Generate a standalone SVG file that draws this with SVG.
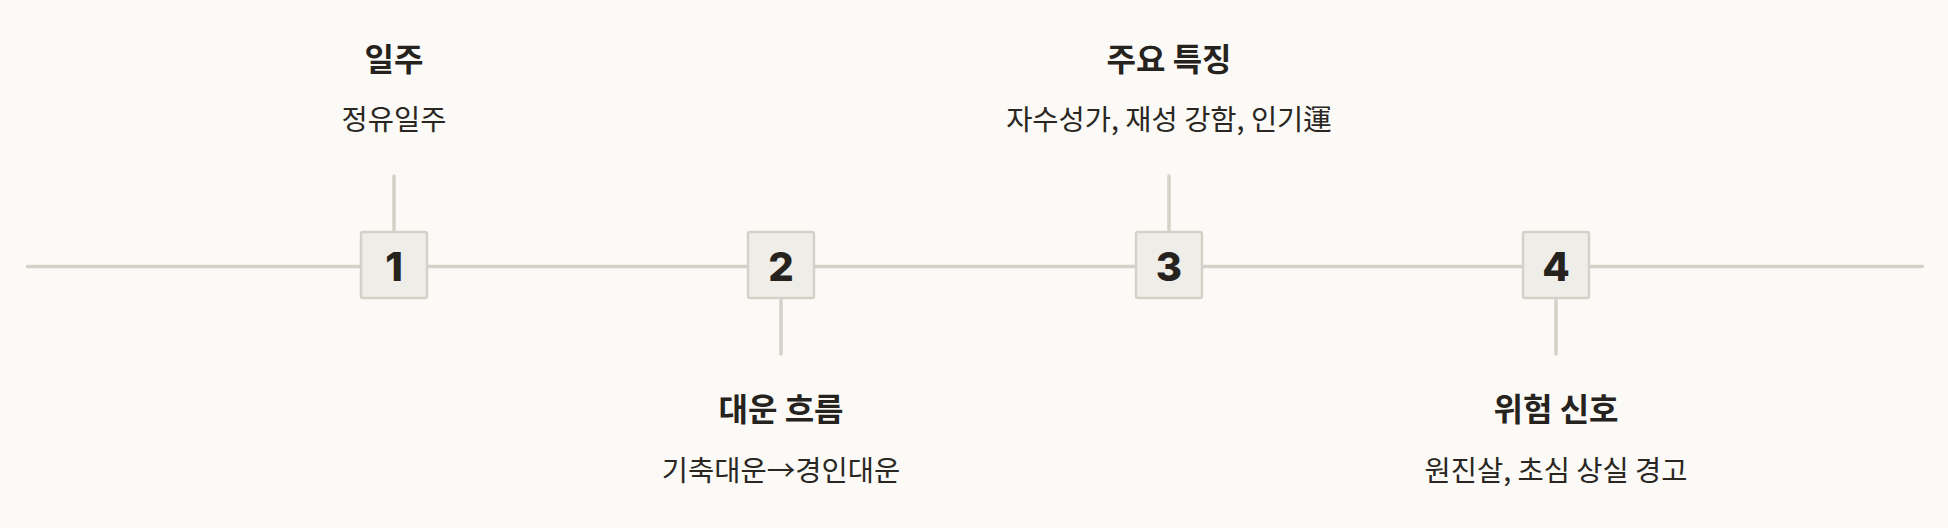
<svg xmlns="http://www.w3.org/2000/svg" width="1948" height="528" viewBox="0 0 1948 528">
<style>
.bg{fill:#fbfaf6}
.ln{stroke:#d4d1c9;stroke-width:3.5;stroke-linecap:round;fill:none}
.box{fill:#efede7;stroke:#d4d1c9;stroke-width:2.5}
.num{font-family:Inter,"Noto Sans",sans-serif;font-weight:800;font-size:40px;fill:#26231f;text-anchor:middle}
.t{font-family:"Noto Sans CJK KR","Noto Sans",sans-serif;font-weight:700;font-size:32px;fill:#26231f;text-anchor:middle}
.s{font-family:"Noto Sans CJK KR","Noto Sans",sans-serif;font-weight:400;font-size:28.5px;fill:#2a2722;text-anchor:middle}
</style>
<rect class="bg" x="0" y="0" width="1948" height="528"/>
<g id="connectors">
<line class="ln" x1="27.5" y1="266.5" x2="1922.5" y2="266.5"/>
<line class="ln" x1="394" y1="176" x2="394" y2="232"/>
<line class="ln" x1="781" y1="298" x2="781" y2="354"/>
<line class="ln" x1="1169" y1="176" x2="1169" y2="232"/>
<line class="ln" x1="1556" y1="298" x2="1556" y2="354"/>
</g>
<g id="node1">
<rect class="box" x="361" y="232" width="66" height="66" rx="2"/>
<text class="num" x="394" y="281">1</text>
<text class="t" x="394" y="71">일주</text>
<text class="s" x="394" y="130">정유일주</text>
</g>
<g id="node2">
<rect class="box" x="748" y="232" width="66" height="66" rx="2"/>
<text class="num" x="781" y="281">2</text>
<text class="t" x="781" y="421">대운 흐름</text>
<text class="s" x="781" y="481">기축대운→경인대운</text>
</g>
<g id="node3">
<rect class="box" x="1136" y="232" width="66" height="66" rx="2"/>
<text class="num" x="1169" y="281">3</text>
<text class="t" x="1169" y="71">주요 특징</text>
<text class="s" x="1169" y="130">자수성가, 재성 강함, 인기運</text>
</g>
<g id="node4">
<rect class="box" x="1523" y="232" width="66" height="66" rx="2"/>
<text class="num" x="1556" y="281">4</text>
<text class="t" x="1556" y="421">위험 신호</text>
<text class="s" x="1556" y="481">원진살, 초심 상실 경고</text>
</g>
</svg>
